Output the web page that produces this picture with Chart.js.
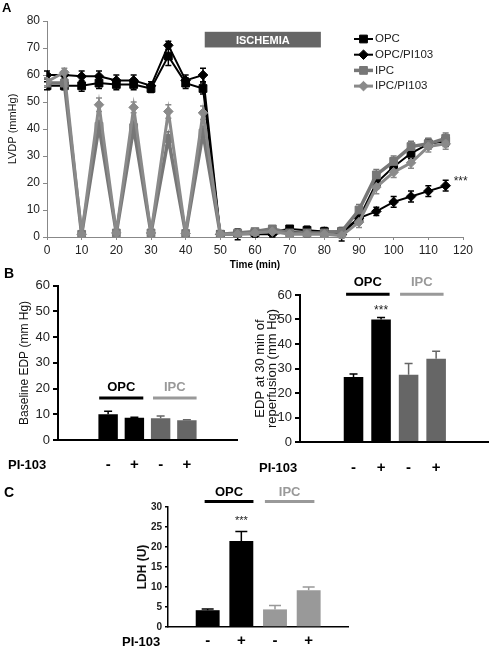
<!DOCTYPE html>
<html lang="en">
<head>
<meta charset="UTF-8">
<title>LVDP, EDP and LDH</title>
<script src="https://cdn.jsdelivr.net/npm/chart.js@4.4.0/dist/chart.umd.min.js"></script>
<style>
  body { margin: 0; background: #fff; font-family: "Liberation Sans", Arial, sans-serif; }
  #fig { position: relative; width: 489px; height: 646px; overflow: hidden; }
  canvas { position: absolute; }
  .lbl { position: absolute; font-weight: bold; color: #000; line-height: 16px; white-space: nowrap; }
</style>
</head>
<body>
<div id="fig">
  <canvas id="lvdp" width="489" height="272" style="left:0;top:0"></canvas>
  <canvas id="edpBase" width="245" height="200" style="left:0;top:275px"></canvas>
  <canvas id="edpRep" width="244" height="200" style="left:245px;top:275px"></canvas>
  <canvas id="ldh" width="280" height="166" style="left:100px;top:480px"></canvas>

  <div class="lbl" style="left:2px;top:0;font-size:13px">A</div>
  <div class="lbl" style="left:4px;top:265px;font-size:14px">B</div>
  <div class="lbl" style="left:4px;top:484px;font-size:14px">C</div>
  <div class="lbl" style="left:8px;top:457px;font-size:13px">PI-103</div>
  <div class="lbl" style="left:259px;top:460px;font-size:13px">PI-103</div>
  <div class="lbl" style="left:122px;top:634px;font-size:13px">PI-103</div>
</div>

<script>
    // ---- panel A: LVDP over time ----
    const time = [0, 5, 10, 15, 20, 25, 30, 35, 40, 45, 50, 55, 60, 65, 70, 75, 80, 85, 90, 95, 100, 105, 110, 115];
    const opc      = [56, 56, 56, 57, 56.5, 56.5, 55, 67, 57, 55, 1, 1, 1.5, 2, 3, 2.5, 2, 2, 7, 20, 26, 31, 34.5, 35.5];
    const opcErr   = [1.5, 1.5, 2, 2, 2, 2, 1.5, 3.5, 2, 2, 0.5, 1, 1, 1, 1, 1.5, 1, 1, 2, 2, 2, 2, 2, 2];
    const opcPi    = [60, 60, 59.5, 59.5, 58, 58, 56, 71, 58, 60, 1, 1, 1, 1, 2, 1.5, 2, 1, 7, 9.5, 13, 15, 17, 19];
    const opcPiErr = [1.5, 1.5, 2, 2, 2, 2, 1.5, 1.5, 2, 2.5, 0.5, 2, 1, 1, 1, 1.5, 1.5, 2.5, 2, 1.5, 2, 2, 2, 2];
    const ipc      = [57, 57, 1, 41, 1.5, 40.5, 1.5, 36.5, 1.3, 38.5, 1, 1.5, 2, 3, 1.5, 1.5, 1.5, 2, 10, 23, 28, 33.5, 34.5, 36.5];
    const ipcErr   = [1.5, 1.5, 0.5, 2, 0.5, 2, 0.5, 2.5, 0.5, 2.5, 0.5, 1, 1, 1, 1, 1, 1, 1, 2, 2, 2, 2, 2, 2];
    const ipcPi    = [57.5, 61, 1, 49, 1.5, 48, 1.5, 46.5, 1.3, 46, 1, 1, 1.5, 2, 1, 1, 1, 0.5, 5.5, 18.5, 24, 27.5, 33.5, 34.5];
    const ipcPiErr = [1.5, 1.5, 0.5, 2.5, 0.5, 2, 0.5, 2.5, 0.5, 2.5, 0.5, 1, 1, 1, 1, 1, 1, 1, 2, 2.5, 2, 2, 2, 2];
    const seriesNames = ['OPC', 'OPC/PI103', 'IPC', 'IPC/PI103'];

    // ---- panel B / C: bars ----
    const signs = ['-', '+', '-', '+'];
    const baseEdp = [10, 8.7, 8.5, 7.7];
    const baseEdpErr = [1.2, 0.2, 0.8, 0.2];
    const repEdp = [26.5, 50, 27.5, 34];
    const repEdpErr = [1.3, 0.8, 4.5, 3];
    const ldh = [4.2, 21.5, 4.4, 9.2];
    const ldhErr = [0.3, 2.4, 1.0, 0.8];

    const FONT = '"Liberation Sans", Arial, sans-serif';

    // error bars, annotations, group labels, legend
    const extras = {
        id: 'extras',
        beforeDatasetsDraw(chart, args, opts) {
            const ctx = chart.ctx, ys = chart.scales.y;
            ctx.save();
            chart.data.datasets.forEach((ds, i) => {
                if (!ds.err) return;
                const meta = chart.getDatasetMeta(i);
                meta.data.forEach((el, j) => {
                    const v = ds.data[j].y, e = ds.err[j];
                    const top = ys.getPixelForValue(v + e);
                    const bot = opts.upOnly ? el.y : ys.getPixelForValue(v - e);
                    const c = Array.isArray(ds.backgroundColor) ? ds.backgroundColor[j] : ds.borderColor;
                    ctx.strokeStyle = c;
                    ctx.lineWidth = opts.errWidth || 1.5;
                    ctx.beginPath();
                    ctx.moveTo(el.x, top); ctx.lineTo(el.x, bot);
                    ctx.moveTo(el.x - opts.cap, top); ctx.lineTo(el.x + opts.cap, top);
                    if (!opts.upOnly) { ctx.moveTo(el.x - opts.cap, bot); ctx.lineTo(el.x + opts.cap, bot); }
                    ctx.stroke();
                });
            });
            ctx.restore();
        },
        afterDraw(chart, args, opts) {
            const ctx = chart.ctx, xs = chart.scales.x, ys = chart.scales.y;
            ctx.save();
            (opts.boxes || []).forEach(b => {
                const x0 = xs.getPixelForValue(b.x0), x1 = xs.getPixelForValue(b.x1);
                const y0 = ys.getPixelForValue(b.y1), y1 = ys.getPixelForValue(b.y0);
                ctx.fillStyle = b.color;
                ctx.fillRect(x0, y0, x1 - x0, y1 - y0);
                ctx.fillStyle = b.textColor;
                ctx.font = b.font;
                ctx.textAlign = 'center'; ctx.textBaseline = 'middle';
                ctx.fillText(b.text, (x0 + x1) / 2, (y0 + y1) / 2 + 1);
            });
            (opts.groups || []).forEach(g => {
                const x0 = xs.getPixelForValue(g.from), x1 = xs.getPixelForValue(g.to);
                const ly = ys.getPixelForValue(g.line);
                ctx.strokeStyle = g.color; ctx.lineWidth = 3;
                ctx.beginPath(); ctx.moveTo(x0, ly); ctx.lineTo(x1, ly); ctx.stroke();
                ctx.fillStyle = g.color;
                ctx.font = g.font;
                ctx.textAlign = 'center'; ctx.textBaseline = 'middle';
                ctx.fillText(g.text, (x0 + x1) / 2, ys.getPixelForValue(g.label));
            });
            (opts.texts || []).forEach(t => {
                ctx.fillStyle = t.color || '#000';
                ctx.font = t.font;
                ctx.textAlign = t.align || 'center'; ctx.textBaseline = 'middle';
                ctx.fillText(t.text, xs.getPixelForValue(t.x), ys.getPixelForValue(t.y));
            });
            const L = opts.legend;
            if (L) {
                chart.data.datasets.forEach((ds, i) => {
                    const y = L.y + i * L.step;
                    ctx.strokeStyle = ds.borderColor;
                    ctx.lineWidth = ds.borderWidth;
                    ctx.beginPath(); ctx.moveTo(L.x, y); ctx.lineTo(L.x + L.len, y); ctx.stroke();
                    ctx.fillStyle = ds.backgroundColor;
                    ctx.lineWidth = 1;
                    Chart.helpers.drawPoint(ctx, { pointStyle: ds.pointStyle, radius: ds.pointRadius, rotation: 0, borderWidth: 1 }, L.x + L.len / 2, y);
                    ctx.fillStyle = '#222';
                    ctx.font = L.font;
                    ctx.textAlign = 'left'; ctx.textBaseline = 'middle';
                    ctx.fillText(ds.label, L.x + L.len + 2, y);
                });
            }
            ctx.restore();
        }
    };

    function pts(vals) {
        return vals.map((v, i) => ({ x: time[i], y: v }));
    }

    function lineSet(i, vals, err, color, style, width, order) {
        return {
            label: seriesNames[i], data: pts(vals), err: err,
            borderColor: color, backgroundColor: color, borderWidth: width,
            pointStyle: style, pointRadius: style === 'rect' ? 5.5 : 4.8,
            pointBorderWidth: 1, tension: 0, order: order
        };
    }

    new Chart(document.getElementById('lvdp'), {
        type: 'line',
        data: {
            datasets: [
                lineSet(0, opc, opcErr, '#000', 'rect', 2, 4),
                lineSet(1, opcPi, opcPiErr, '#000', 'rectRot', 2, 3),
                lineSet(2, ipc, ipcErr, '#777', 'rect', 3.5, 2),
                lineSet(3, ipcPi, ipcPiErr, '#8a8a8a', 'rectRot', 3, 1)
            ]
        },
        options: {
            responsive: false,
            animation: false,
            layout: { padding: { left: 0, top: 21, right: 26, bottom: 0 } },
            scales: {
                x: {
                    type: 'linear', min: 0, max: 120,
                    afterFit: s => { s.height = 35; },
                    ticks: { stepSize: 10, color: '#222', font: { family: FONT, size: 12 }, padding: 3, maxRotation: 0 },
                    grid: { drawOnChartArea: false, drawTicks: true, tickLength: 3, color: '#888' },
                    border: { color: '#888', width: 1 },
                    title: { display: true, text: 'Time (min)', color: '#000', font: { family: FONT, size: 10, weight: 'bold' }, padding: { top: 0, bottom: 1 } }
                },
                y: {
                    min: 0, max: 80,
                    afterFit: s => { s.width = 47; },
                    ticks: { stepSize: 10, color: '#222', font: { family: FONT, size: 12 }, padding: 3 },
                    grid: { drawOnChartArea: false, drawTicks: true, tickLength: 4, color: '#888' },
                    border: { color: '#888', width: 1 },
                    title: { display: true, text: 'LVDP (mmHg)', color: '#111', font: { family: FONT, size: 11 }, padding: { top: 6.4, bottom: 0 } }
                }
            },
            plugins: {
                legend: { display: false },
                tooltip: { enabled: false },
                extras: {
                    cap: 3, errWidth: 1.5,
                    boxes: [{ x0: 45.5, x1: 79, y0: 70.2, y1: 76, color: '#666', textColor: '#fff', text: 'ISCHEMIA', font: 'bold 11px ' + FONT }],
                    texts: [{ x: 117.3, y: 20.5, text: '***', align: 'left', font: '12px ' + FONT, color: '#222' }],
                    legend: { x: 354, y: 39, step: 15.7, len: 19, font: '11.5px ' + FONT }
                }
            }
        },
        plugins: [extras]
    });

    // bar panels share one layout, only sizes differ
    function barChart(id, vals, errs, colors, o) {
        return new Chart(document.getElementById(id), {
            type: 'bar',
            data: {
                datasets: [{
                    data: vals.map((v, i) => ({ x: i, y: v })),
                    err: errs,
                    backgroundColor: colors,
                    barPercentage: o.barPct,
                    categoryPercentage: 1
                }]
            },
            options: {
                responsive: false,
                animation: false,
                layout: { padding: o.pad },
                scales: {
                    x: {
                        type: 'linear', min: o.xMin, max: o.xMax,
                        afterFit: s => { s.height = o.xH; },
                        afterBuildTicks: s => { s.ticks = signs.map((_, i) => ({ value: i })); },
                        ticks: {
                            autoSkip: false, maxRotation: 0, padding: o.signPad, color: '#000',
                            font: { family: FONT, size: 15, weight: 'bold' },
                            callback: v => signs[v]
                        },
                        grid: { display: false, drawTicks: false },
                        border: { color: '#000', width: o.axisW }
                    },
                    y: {
                        min: 0, max: o.yMax,
                        afterFit: s => { s.width = o.yW; },
                        ticks: { stepSize: o.step, color: '#222', font: o.tickFont, padding: 3 },
                        grid: { drawOnChartArea: false, drawTicks: true, tickLength: o.tickLen, color: '#000', lineWidth: o.axisW },
                        border: { color: '#000', width: o.axisW },
                        title: { display: true, text: o.title, color: '#111', font: o.titleFont, padding: { top: o.titlePad, bottom: 0 } }
                    }
                },
                plugins: {
                    legend: { display: false },
                    tooltip: { enabled: false },
                    extras: { cap: o.cap, upOnly: true, errWidth: 1.5, groups: o.groups, texts: o.texts || [] }
                }
            },
            plugins: [extras]
        });
    }

    const groupFont = 'bold 13px ' + FONT;

    barChart('edpBase', baseEdp, baseEdpErr, ['#000', '#000', '#666', '#666'], {
        barPct: 0.74, pad: { left: 0, top: 10, right: 8, bottom: 0 },
        xMin: -1.057, xMax: 4.057, xH: 35, signPad: 16, axisW: 2,
        yMax: 60, step: 10, yW: 58, tickLen: 5,
        tickFont: { family: FONT, size: 13 },
        title: 'Baseline EDP (mm Hg)', titleFont: { family: FONT, size: 12 }, titlePad: 17.8,
        cap: 4,
        groups: [
            { text: 'OPC', from: -0.34, to: 1.34, line: 16.3, label: 20.3, color: '#000', font: groupFont },
            { text: 'IPC', from: 1.71, to: 3.37, line: 16.3, label: 20.3, color: '#999', font: groupFont }
        ]
    });

    barChart('edpRep', repEdp, repEdpErr, ['#000', '#000', '#666', '#666'], {
        barPct: 0.71, pad: { left: 0, top: 20, right: 1, bottom: 0 },
        xMin: -1.09, xMax: 4.03, xH: 33, signPad: 17, axisW: 2,
        yMax: 60, step: 10, yW: 55, tickLen: 5,
        tickFont: { family: FONT, size: 13 },
        title: ['EDP at 30 min of', 'reperfusion (mm Hg)'], titleFont: { family: FONT, size: 13, lineHeight: 0.9 }, titlePad: 10,
        cap: 4,
        groups: [
            { text: 'OPC', from: -0.27, to: 1.31, line: 60.3, label: 65.3, color: '#000', font: groupFont },
            { text: 'IPC', from: 1.69, to: 3.27, line: 60.3, label: 65.3, color: '#999', font: groupFont }
        ],
        texts: [{ x: 1, y: 53.4, text: '***', font: '12px ' + FONT, color: '#222' }]
    });

    barChart('ldh', ldh, ldhErr, ['#000', '#000', '#999', '#999'], {
        barPct: 0.71, pad: { left: 0, top: 27, right: 32, bottom: 0 },
        xMin: -0.51, xMax: 3.5, xH: 19, signPad: 5, axisW: 1.5,
        yMax: 30, step: 5, yW: 68, tickLen: 3,
        tickFont: { family: FONT, size: 10, weight: 'bold' },
        title: 'LDH (U)', titleFont: { family: FONT, size: 12, weight: 'bold' }, titlePad: 35,
        cap: 6,
        groups: [
            { text: 'OPC', from: -0.09, to: 1.36, line: 31.4, label: 33.7, color: '#000', font: groupFont },
            { text: 'IPC', from: 1.70, to: 3.17, line: 31.4, label: 33.7, color: '#999', font: groupFont }
        ],
        texts: [{ x: 1, y: 26.4, text: '***', font: '11px ' + FONT, color: '#222' }]
    });
</script>
</body>
</html>
